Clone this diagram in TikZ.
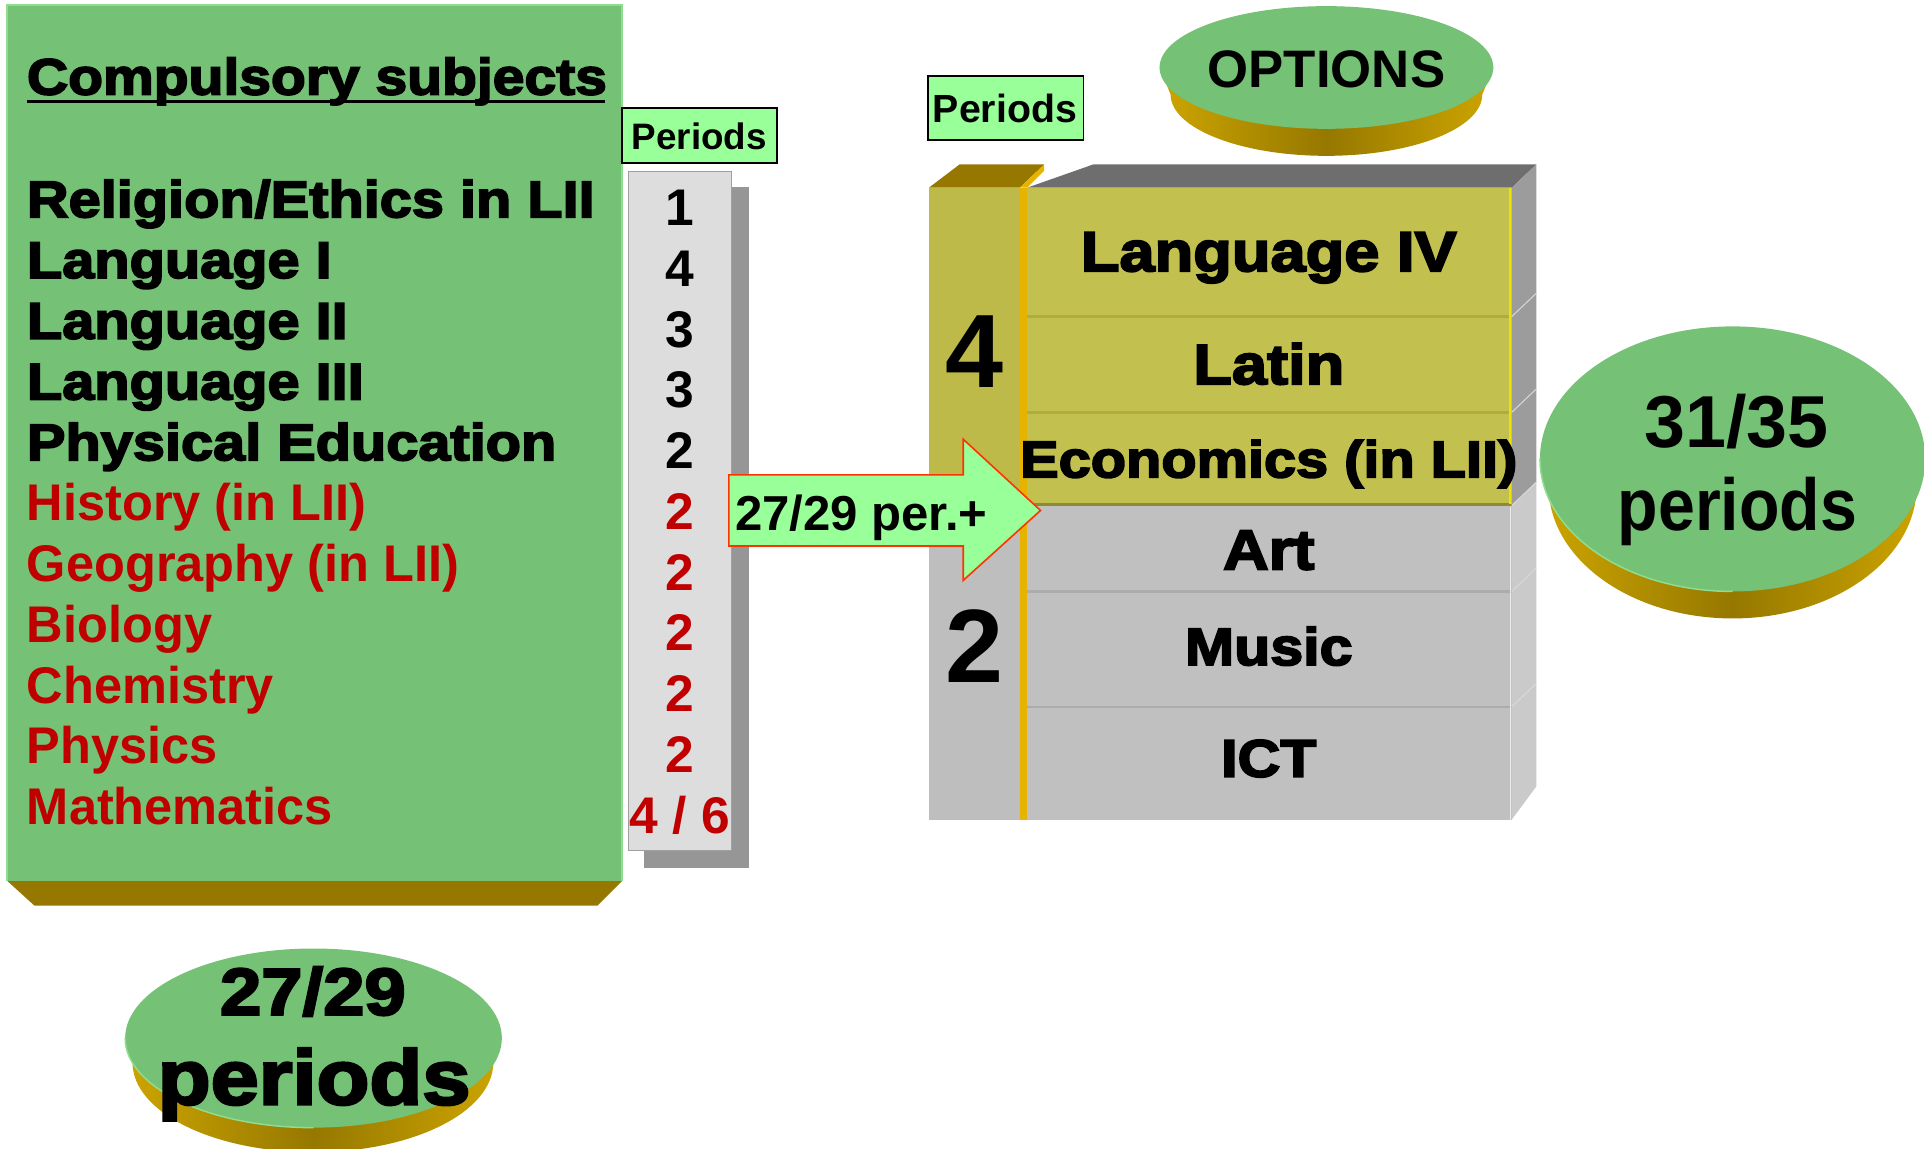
\documentclass[tikz,border=0pt]{standalone}
\usepackage{fontspec}
\setmainfont{Liberation Sans}
\newfontfamily\heavyfont{Liberation Sans}[FakeStretch=1.12,FakeBold=3.5]
\newfontfamily\redfont{Liberation Sans}[FakeStretch=0.98]
\definecolor{boxgreen}{RGB}{117,193,118}
\definecolor{rimgreen}{RGB}{143,221,143}
\definecolor{lightgreen}{RGB}{153,255,153}
\definecolor{bevel}{RGB}{150,120,0}
\definecolor{goldA}{RGB}{205,165,0}
\definecolor{goldB}{RGB}{150,120,0}
\definecolor{oliveA}{RGB}{194,193,80}
\definecolor{oliveline}{RGB}{176,172,64}
\definecolor{oliveB}{RGB}{190,186,74}
\definecolor{rowgray}{RGB}{192,192,192}
\definecolor{grayline}{RGB}{172,172,172}
\definecolor{grayB}{RGB}{190,190,190}
\definecolor{strip}{RGB}{230,180,0}
\definecolor{topgray}{RGB}{110,110,110}
\definecolor{sideA}{RGB}{156,156,156}
\definecolor{sideB}{RGB}{202,202,202}
\definecolor{numbox}{RGB}{221,221,221}
\definecolor{numborder}{RGB}{160,160,160}
\definecolor{shadowgray}{RGB}{150,150,150}
\definecolor{redtxt}{RGB}{192,0,0}
\definecolor{arrowred}{RGB}{255,51,0}
\newcommand{\fsz}[1]{\fontsize{#1}{#1}\selectfont}
\begin{document}
\begin{tikzpicture}[x=1pt,y=-1pt,
  txt/.style={inner sep=0pt,outer sep=0pt},
  hv/.style={txt,font=\heavyfont\bfseries\fsz{#1}},
  bd/.style={txt,font=\bfseries\fsz{#1}},
  rd/.style={txt,font=\redfont\bfseries\fsz{#1},text=redtxt},
  goldside/.style={left color=goldA,right color=goldA,middle color=goldB}]
\useasboundingbox (0,0) rectangle (1568,936);

% ---------- left green panel ----------
\fill[bevel] (6,718) -- (507,718) -- (487,738) -- (28,738) -- cycle;
\fill[boxgreen] (6,4) rectangle (507,718);
\draw[rimgreen,line width=1.5] (6,718) -- (6,4) -- (507,4) -- (507,718);
\node[hv=41.5,anchor=base west] (title) at (22,77) {Compulsory subjects};
\draw[line width=2.3] (22,83) -- (493,83);
\foreach \t [count=\i from 0] in {Religion/Ethics in LII,Language I,Language II,Language III,Physical Education}
  \node[hv=42,anchor=base west] (s\i) at (22,177+49.5*\i) {\t};
\foreach \t [count=\i from 5] in {History (in LII),Geography (in LII),Biology,Chemistry,Physics,Mathematics}
  \node[rd=42,anchor=base west] (s\i) at (22,177+49.5*\i) {\t};

% ---------- periods column ----------
\node[txt,fill=lightgreen,draw=black,line width=1.5,minimum width=126,minimum height=45,anchor=north west] (per1) at (507,88) {};
\node[bd=30,anchor=base] (per1t) at (570,122) {Periods};
\fill[shadowgray] (525,152) rectangle (610,707);
\draw[numborder,fill=numbox,line width=1] (512,140) rectangle (596,693);
\foreach \t [count=\i from 0] in {1,4,3,3,2}
  \node[bd=42,anchor=base] (n\i) at (554,184+49.5*\i) {\t};
\foreach \t [count=\i from 5] in {2,2,2,2,2,4 / 6}
  \node[bd=42,anchor=base,text=redtxt] (n\i) at (554,184+49.5*\i) {\t};

% ---------- options block ----------
\node[txt,fill=lightgreen,draw=black,line width=1.5,minimum width=127,minimum height=52,anchor=north west] (per2) at (756,62) {};
\node[bd=32,anchor=base] (per2t) at (819,100) {Periods};

% left column
\fill[oliveB] (757,153) rectangle (831,412);
\fill[grayB] (757,412) rectangle (831,668);
\fill[bevel] (757,153) -- (782,134) -- (851,134) -- (831,153) -- cycle;
\fill[strip] (831,153) -- (851,134) -- (851,139) -- (837,153) -- cycle;
\fill[strip] (831,153) rectangle (837,668);
\node[bd=85,anchor=base] (four) at (794,316) {4};
\node[bd=85,anchor=base] (two) at (794,556) {2};

% main rows
\fill[topgray] (837,153) -- (891,134) -- (1252,134) -- (1232,153) -- cycle;
\fill[oliveA] (837,153) rectangle (1232,412);
\fill[rowgray] (837,412) rectangle (1232,668);
\draw[oliveline,line width=2] (837,258) -- (1232,258) (837,336) -- (1232,336);
\draw[oliveline!80!black,line width=2] (837,411) -- (1232,411);
\draw[grayline,line width=2] (837,482) -- (1232,482) (837,576) -- (1232,576);
\draw[yellow!85!olive,line width=2] (1231,153) -- (1231,411);
\draw[white!85!gray,line width=1.5] (1231,413) -- (1231,668);
% side faces
\foreach \a/\b in {153/258,258/336,336/412}
  \fill[sideA] (1232,\a) -- (1252,\a-19) -- (1252,\b-19) -- (1232,\b) -- cycle;
\foreach \a/\b in {412/482,482/576}
  \fill[sideB] (1232,\a) -- (1252,\a-19) -- (1252,\b-19) -- (1232,\b) -- cycle;
\fill[sideB] (1232,576) -- (1252,557) -- (1252,641) -- (1232,668) -- cycle;
\foreach \a in {258,336,412,482,576}
  \draw[white!70!gray,line width=0.8] (1232,\a) -- (1252,\a-19);

\node[hv=46,anchor=base] (lang4) at (1034,221) {Language IV};
\node[hv=46,anchor=base] (latin) at (1034,313) {Latin};
\node[hv=42,anchor=base] (econ) at (1034,389) {Economics (in LII)};
\node[hv=46,anchor=base] (art) at (1034,464) {Art};
\node[hv=43,anchor=base] (music) at (1034,542) {Music};
\node[hv=43,anchor=base] (ict) at (1034,633) {ICT};

% ---------- arrow ----------
\draw[fill=lightgreen,draw=arrowred,line width=1.3,line join=miter]
  (594,387) -- (785,387) -- (785,358) -- (848,416) -- (785,473) -- (785,445) -- (594,445) -- cycle;
\node[bd=40,anchor=base west] (arrowt) at (599,432) {27/29 per.+};

% ---------- discs ----------
\shade[goldside] (945,55) -- (954,77) arc[start angle=180,end angle=360,x radius=127pt,y radius=50pt] -- (1217,55) -- cycle;
\fill[boxgreen] (1081,55) ellipse [x radius=136pt,y radius=50pt];
\node[bd=43,anchor=base] (options) at (1081,71) {OPTIONS};

\shade[goldside] (1255,374) -- (1262,396) arc[start angle=180,end angle=360,x radius=150pt,y radius=108pt] -- (1569,374) -- cycle;
\fill[boxgreen] (1412,374) ellipse [x radius=157pt,y radius=108pt];
\draw[rimgreen,line width=1.2] (1412,482) arc[start angle=270,end angle=180,x radius=157pt,y radius=108pt];
\node[bd=60,anchor=base] (tot1) at (1415,365) {31/35};
\node[bd=60,anchor=base] (tot2) at (1416,432) {\scalebox{0.9}[1]{periods}};

\shade[goldside] (102,846) -- (108,866) arc[start angle=180,end angle=360,x radius=147pt,y radius=73pt] -- (409,846) -- cycle;
\fill[boxgreen] (255.5,846) ellipse [x radius=153.5pt,y radius=73pt];
\draw[rimgreen,line width=1.2] (255.5,919) arc[start angle=270,end angle=180,x radius=153.5pt,y radius=73pt];
\node[hv=54,anchor=base] (comp1) at (255,827) {27/29};
\node[hv=63,anchor=base] (comp2) at (256,900) {periods};
\end{tikzpicture}
\end{document}
